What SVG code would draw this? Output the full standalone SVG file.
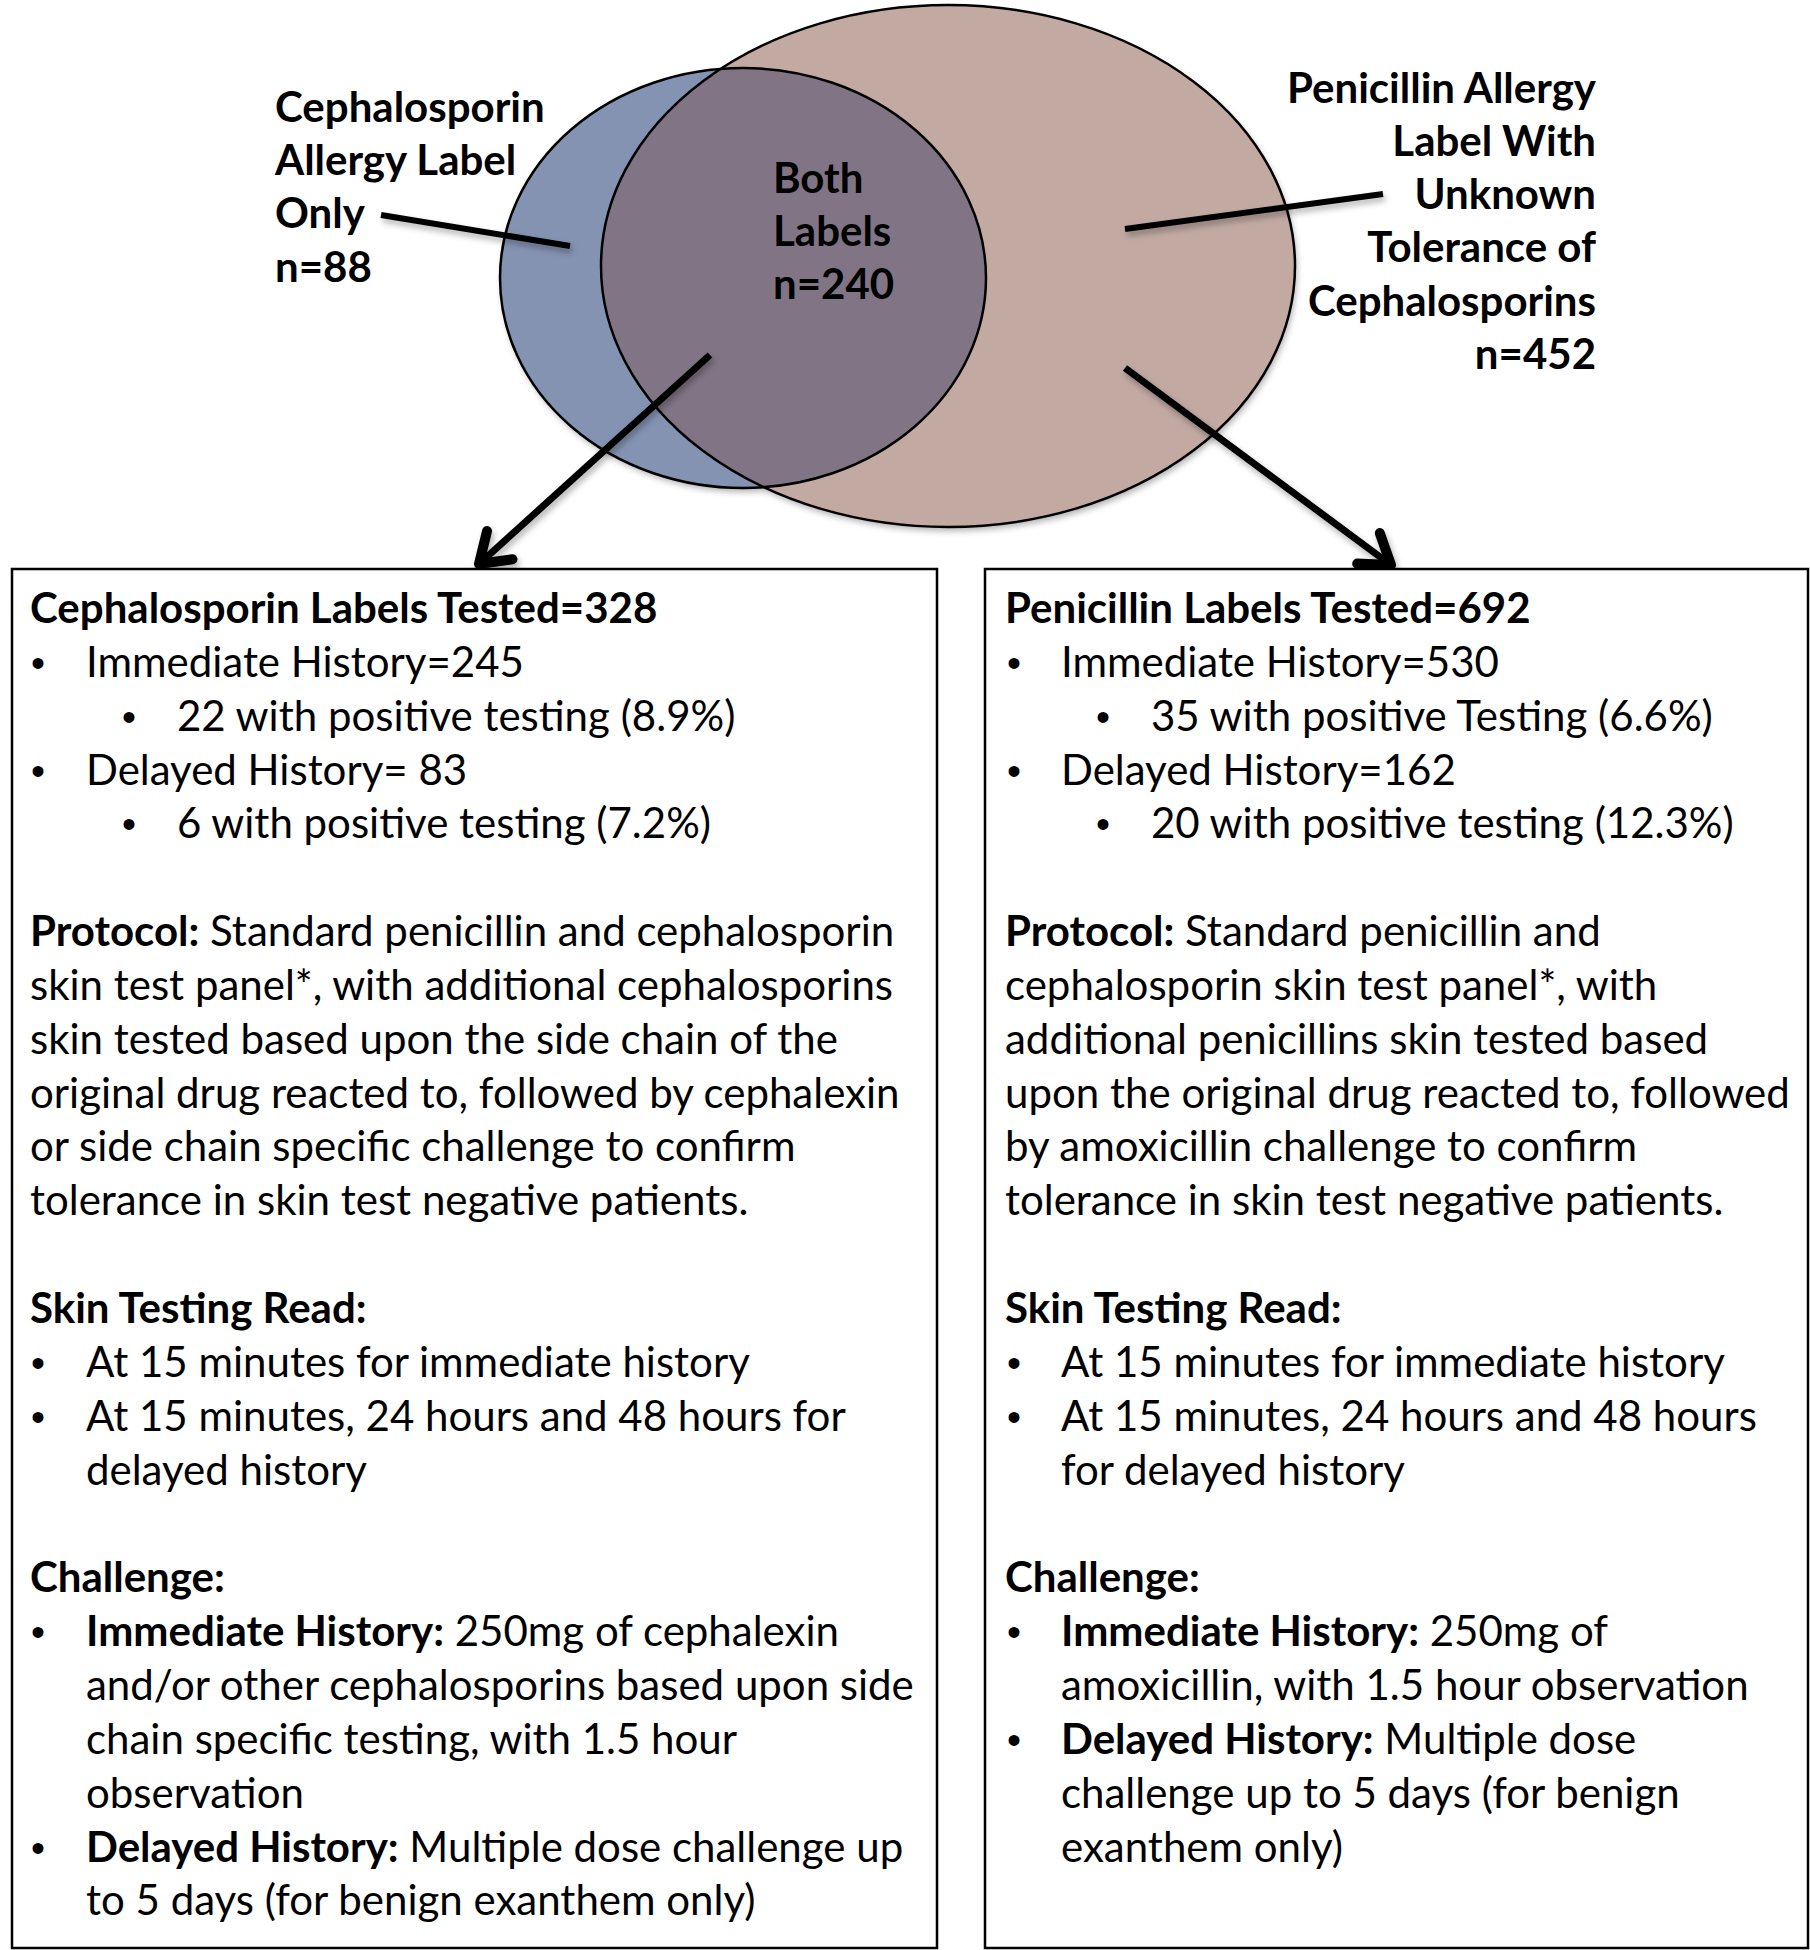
<svg xmlns="http://www.w3.org/2000/svg" width="1810" height="1950" viewBox="0 0 1810 1950">
<defs>
<style>
.t{font-family:Lato,"Open Sans","Liberation Sans",sans-serif;font-size:42px;fill:#000}
.b{font-weight:bold}
.d{font-family:"Liberation Sans",Arial,sans-serif;font-size:40px;fill:#000}
.v{font-family:Lato,"Open Sans","Liberation Sans",sans-serif;font-size:42px;font-weight:bold;fill:#000}
.r{text-anchor:end}
.edge{fill:none;stroke:#000;stroke-width:2.5}
.box{fill:#fff;stroke:#000;stroke-width:2.5}
.lead{stroke:#000;stroke-width:6;fill:none}
.arrow{stroke:#000;stroke-width:7;fill:none}
</style>
<filter id="sh" x="-10%" y="-10%" width="120%" height="120%">
<feDropShadow dx="2" dy="4" stdDeviation="3" flood-color="#000" flood-opacity="0.3"/>
</filter>
<clipPath id="blueClip"><ellipse cx="743" cy="278" rx="243" ry="210"/></clipPath>
<marker id="arr" markerUnits="userSpaceOnUse" markerWidth="80" markerHeight="80" viewBox="-40 -40 80 80" refX="0" refY="0" orient="auto" overflow="visible">
<path d="M-28,-19 L0,0 L-28,19" fill="none" stroke="#000" stroke-width="10" stroke-linecap="round" stroke-linejoin="round"/>
</marker>
</defs>
<rect width="1810" height="1950" fill="#fff"/>

<g id="venn">
<g filter="url(#sh)">
<ellipse cx="743" cy="278" rx="243" ry="210" fill="#8593B3"/>
<ellipse cx="948" cy="266" rx="347" ry="261" fill="#C2AAA3"/>
</g>
<ellipse cx="948" cy="266" rx="347" ry="261" fill="#817585" clip-path="url(#blueClip)"/>
<ellipse class="edge" cx="743" cy="278" rx="243" ry="210"/>
<ellipse class="edge" cx="948" cy="266" rx="347" ry="261"/>
</g>

<g id="label-ceph-only">
<text class="v" x="275" y="122">Cephalosporin</text>
<text class="v" x="275" y="175">Allergy Label</text>
<text class="v" x="275" y="228">Only</text>
<text class="v" x="275" y="282">n=88</text>
</g>

<g id="label-both">
<text class="v" x="773" y="193">Both</text>
<text class="v" x="773" y="246">Labels</text>
<text class="v" x="773" y="299">n=240</text>
</g>

<g id="label-pen">
<text class="v r" x="1596" y="103">Penicillin Allergy</text>
<text class="v r" x="1596" y="156">Label With</text>
<text class="v r" x="1596" y="209">Unknown</text>
<text class="v r" x="1596" y="262">Tolerance of</text>
<text class="v r" x="1596" y="316">Cephalosporins</text>
<text class="v r" x="1596" y="369">n=452</text>
</g>

<g id="connectors" filter="url(#sh)">
<line class="lead" x1="381" y1="215" x2="570" y2="246"/>
<line class="lead" x1="1383" y1="194" x2="1125" y2="229"/>
<line class="arrow" x1="710" y1="355" x2="479" y2="564" marker-end="url(#arr)"/>
<line class="arrow" x1="1125" y1="368" x2="1391" y2="565" marker-end="url(#arr)"/>
</g>

<g id="box-ceph">
<rect class="box" x="12" y="569" width="925" height="1379"/>
<text class="t b" x="30" y="623">Cephalosporin Labels Tested=328</text>
<text class="d" x="31" y="677">•</text><text class="t" x="86" y="677">Immediate History=245</text>
<text class="d" x="122" y="731">•</text><text class="t" x="177" y="731">22 with positive testing (8.9%)</text>
<text class="d" x="31" y="785">•</text><text class="t" x="86" y="785">Delayed History= 83</text>
<text class="d" x="122" y="838">•</text><text class="t" x="177" y="838">6 with positive testing (7.2%)</text>
<text class="t" x="30" y="946"><tspan class="b">Protocol:</tspan> Standard penicillin and cephalosporin</text>
<text class="t" x="30" y="1000">skin test panel*, with additional cephalosporins</text>
<text class="t" x="30" y="1054">skin tested based upon the side chain of the</text>
<text class="t" x="30" y="1108">original drug reacted to, followed by cephalexin</text>
<text class="t" x="30" y="1161">or side chain specific challenge to confirm</text>
<text class="t" x="30" y="1215">tolerance in skin test negative patients.</text>
<text class="t b" x="30" y="1323">Skin Testing Read:</text>
<text class="d" x="31" y="1377">•</text><text class="t" x="86" y="1377">At 15 minutes for immediate history</text>
<text class="d" x="31" y="1431">•</text><text class="t" x="86" y="1431">At 15 minutes, 24 hours and 48 hours for</text>
<text class="t" x="86" y="1485">delayed history</text>
<text class="t b" x="30" y="1592">Challenge:</text>
<text class="d" x="31" y="1646">•</text><text class="t" x="86" y="1646"><tspan class="b">Immediate History:</tspan> 250mg of cephalexin</text>
<text class="t" x="86" y="1700">and/or other cephalosporins based upon side</text>
<text class="t" x="86" y="1754">chain specific testing, with 1.5 hour</text>
<text class="t" x="86" y="1808">observation</text>
<text class="d" x="31" y="1862">•</text><text class="t" x="86" y="1862"><tspan class="b">Delayed History:</tspan> Multiple dose challenge up</text>
<text class="t" x="86" y="1915">to 5 days (for benign exanthem only)</text>
</g>

<g id="box-pen">
<rect class="box" x="985" y="569" width="823" height="1379"/>
<text class="t b" x="1005" y="623">Penicillin Labels Tested=692</text>
<text class="d" x="1007" y="677">•</text><text class="t" x="1061" y="677">Immediate History=530</text>
<text class="d" x="1096" y="731">•</text><text class="t" x="1151" y="731">35 with positive Testing (6.6%)</text>
<text class="d" x="1007" y="785">•</text><text class="t" x="1061" y="785">Delayed History=162</text>
<text class="d" x="1096" y="838">•</text><text class="t" x="1151" y="838">20 with positive testing (12.3%)</text>
<text class="t" x="1005" y="946"><tspan class="b">Protocol:</tspan> Standard penicillin and</text>
<text class="t" x="1005" y="1000">cephalosporin skin test panel*, with</text>
<text class="t" x="1005" y="1054">additional penicillins skin tested based</text>
<text class="t" x="1005" y="1108">upon the original drug reacted to, followed</text>
<text class="t" x="1005" y="1161">by amoxicillin challenge to confirm</text>
<text class="t" x="1005" y="1215">tolerance in skin test negative patients.</text>
<text class="t b" x="1005" y="1323">Skin Testing Read:</text>
<text class="d" x="1007" y="1377">•</text><text class="t" x="1061" y="1377">At 15 minutes for immediate history</text>
<text class="d" x="1007" y="1431">•</text><text class="t" x="1061" y="1431">At 15 minutes, 24 hours and 48 hours</text>
<text class="t" x="1061" y="1485">for delayed history</text>
<text class="t b" x="1005" y="1592">Challenge:</text>
<text class="d" x="1007" y="1646">•</text><text class="t" x="1061" y="1646"><tspan class="b">Immediate History:</tspan> 250mg of</text>
<text class="t" x="1061" y="1700">amoxicillin, with 1.5 hour observation</text>
<text class="d" x="1007" y="1754">•</text><text class="t" x="1061" y="1754"><tspan class="b">Delayed History:</tspan> Multiple dose</text>
<text class="t" x="1061" y="1808">challenge up to 5 days (for benign</text>
<text class="t" x="1061" y="1862">exanthem only)</text>
</g>
</svg>
